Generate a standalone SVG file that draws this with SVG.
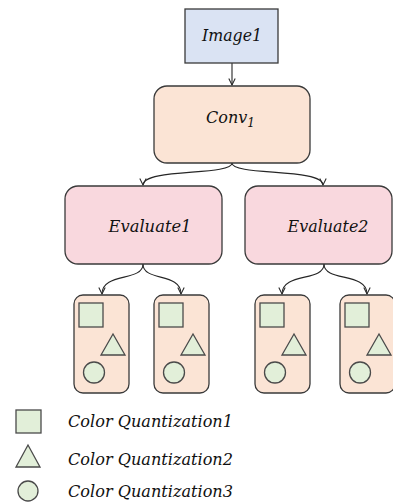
<svg xmlns="http://www.w3.org/2000/svg" width="393" height="502" viewBox="0 0 393 502">
<defs>
<style>
.t{font-family:"DejaVu Serif","Liberation Serif",serif;font-style:italic;fill:#111111;}
.edge{fill:none;stroke:#262626;stroke-width:1.1;}
.box{stroke:#3a3a3a;stroke-width:1.3;}
.shape{fill:#e2efd9;stroke:#4a4a4a;stroke-width:1.3;}
.qbox{fill:#fbe4d5;stroke:#3a3a3a;stroke-width:1.3;}
</style>
<marker id="arr" viewBox="0 0 10 10" refX="9" refY="5" markerWidth="8" markerHeight="8" markerUnits="userSpaceOnUse" orient="auto">
<path d="M1,1 L9,5 L1,9" fill="none" stroke="#262626" stroke-width="1.3"/>
</marker>
<g id="qb">
<rect class="qbox" x="0" y="0" width="55" height="98" rx="9"/>
<rect class="shape" x="5" y="8" width="24" height="24"/>
<polygon class="shape" points="39,39 27,60 51,60"/>
<circle class="shape" cx="20" cy="77.5" r="10.5"/>
</g>
</defs>
<rect width="393" height="502" fill="#ffffff"/>
<g id="connectors">
<path class="edge" d="M232,63 L232,85" marker-end="url(#arr)"/>
<path class="edge" d="M232,163 C232,176 143,168 143,185" marker-end="url(#arr)"/>
<path class="edge" d="M232,163 C232,176 323,168 323,185" marker-end="url(#arr)"/>
<path class="edge" d="M143,264 C143,282 102,272 102,294" marker-end="url(#arr)"/>
<path class="edge" d="M143,264 C143,282 181,272 181,294" marker-end="url(#arr)"/>
<path class="edge" d="M324,264 C324,282 282,272 282,294" marker-end="url(#arr)"/>
<path class="edge" d="M324,264 C324,282 367,272 367,294" marker-end="url(#arr)"/>
</g>
<g id="image1">
<rect class="box" x="185" y="9" width="93" height="54" fill="#dae3f3"/>
<text class="t" x="232" y="41" font-size="16" text-anchor="middle" textLength="60" lengthAdjust="spacingAndGlyphs">Image1</text>
</g>
<g id="conv1">
<rect class="box" x="154" y="86" width="156" height="77" rx="13" fill="#fbe4d5"/>
<text class="t" x="206" y="123" font-size="16">Conv<tspan font-size="12" dy="4">1</tspan></text>
</g>
<g id="evaluate1">
<rect class="box" x="65" y="186" width="157" height="78" rx="13" fill="#f9d8de"/>
<text class="t" x="150" y="232" font-size="16" text-anchor="middle" textLength="83" lengthAdjust="spacingAndGlyphs">Evaluate1</text>
</g>
<g id="evaluate2">
<rect class="box" x="245" y="186" width="147" height="78" rx="13" fill="#f9d8de"/>
<text class="t" x="328" y="232" font-size="16" text-anchor="middle" textLength="81" lengthAdjust="spacingAndGlyphs">Evaluate2</text>
</g>
<g id="qbox1"><use href="#qb" x="74" y="295"/></g>
<g id="qbox2"><use href="#qb" x="154" y="295"/></g>
<g id="qbox3"><use href="#qb" x="255" y="295"/></g>
<g id="qbox4"><use href="#qb" x="340" y="295"/></g>
<g id="legend">
<rect class="shape" x="16" y="410" width="25" height="23"/>
<polygon class="shape" points="28,445 16,467 40,467"/>
<circle class="shape" cx="28" cy="491" r="10"/>
<text class="t" x="68" y="427" font-size="16" textLength="165" lengthAdjust="spacingAndGlyphs">Color Quantization1</text>
<text class="t" x="68" y="465" font-size="16" textLength="165" lengthAdjust="spacingAndGlyphs">Color Quantization2</text>
<text class="t" x="68" y="497" font-size="16" textLength="165" lengthAdjust="spacingAndGlyphs">Color Quantization3</text>
</g>
</svg>
